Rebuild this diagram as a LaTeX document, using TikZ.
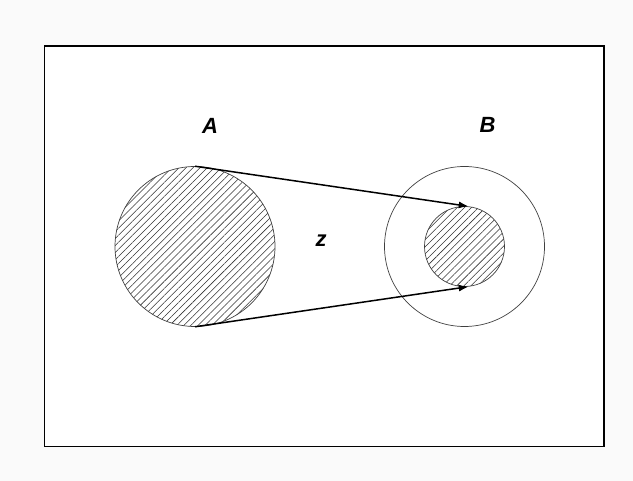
\documentclass[tikz,border=0pt]{standalone}
\usepackage{fontspec}
\setmainfont{Liberation Sans}
\usepackage{tikz}
\usetikzlibrary{arrows.meta,patterns.meta}

\begin{document}
\begin{tikzpicture}[
    x=1pt,y=-1pt,
    set/.style={circle,draw=black!75,line width=0.7pt,inner sep=0pt},
    hatched/.style={pattern={Lines[angle=45,distance=5pt,line width=0.55pt]},
        pattern color=black!80},
    lbl/.style={font=\fontsize{22}{22}\selectfont\bfseries\itshape},
    arrow/.style={-{Latex[length=10pt,width=7pt]},line width=1.5pt}
]
\useasboundingbox (0,0) rectangle (633,481);
\fill[white!98!black] (0,0) rectangle (633,481);
\draw[line width=1.2pt,fill=white] (44.5,46) rectangle (604,446.5);
% the two sets
\node[set,hatched,minimum size=160pt] (A) at (195,246.5) {};
\node[set,minimum size=160pt] (B) at (464.5,246.5) {};
\node[set,hatched,minimum size=80pt] (fB) at (464.5,246.5) {};
% labels
\node[lbl] (labA) at (210,126) {A};
\node[lbl] (labB) at (487.5,125) {B};
\node[lbl] (labz) at (321,241) {z};
% the map
\draw[arrow] (A.north) -- (fB.84);
\draw[arrow] (A.south) -- (fB.-84);
\end{tikzpicture}
\end{document}
